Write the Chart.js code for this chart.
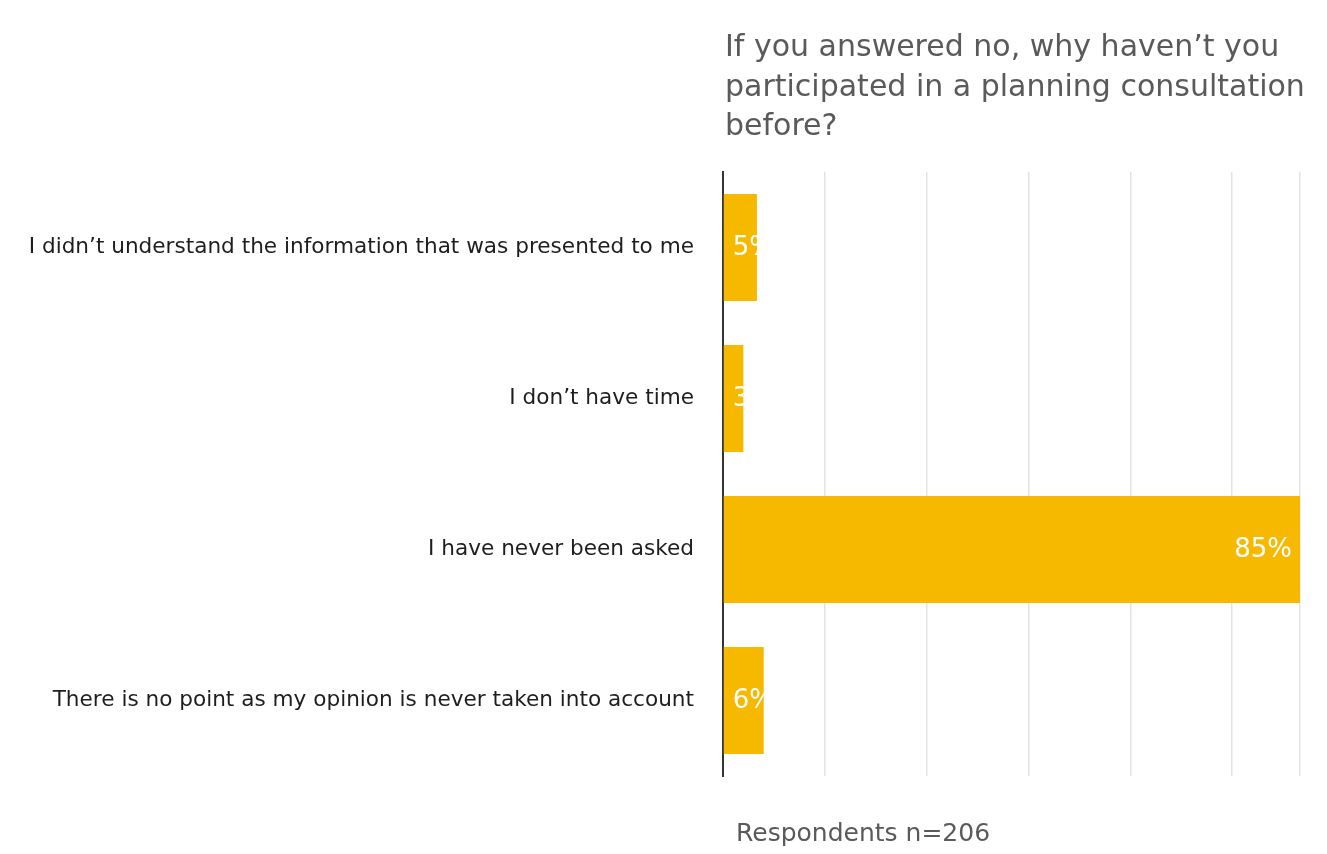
<!DOCTYPE html>
<html>
<head>
<meta charset="utf-8">
<style>
  html, body { margin: 0; padding: 0; background: #ffffff; }
  #wrap { width: 1327px; height: 854px; position: relative; }
</style>
<script src="https://cdn.jsdelivr.net/npm/chart.js@4/dist/chart.umd.min.js"></script>
</head>
<body>
<div id="wrap"><canvas id="chart" width="1327" height="854"></canvas></div>
<script>
// Survey answers and their shares (percent)
const categories = [
  "I didn\u2019t understand the information that was presented to me",
  "I don\u2019t have time",
  "I have never been asked",
  "There is no point as my opinion is never taken into account"
];
const shares = [5, 3, 85, 6];
const titleLines = [
  "If you answered no, why haven\u2019t you",
  "participated in a planning consultation",
  "before?"
];
const footnote = "Respondents n=206";

const FONT = "'DejaVu Sans', 'Liberation Sans', Arial, sans-serif";
const BAR = "#F6B900";

// Title above the plot and respondent note below it, aligned to the plot's left edge
const textPlugin = {
  id: "sideText",
  afterDraw(chart) {
    const { ctx, chartArea } = chart;
    ctx.save();
    ctx.fillStyle = "#5a5a5a";
    ctx.textAlign = "left";
    ctx.textBaseline = "alphabetic";
    ctx.font = "30px " + FONT;
    titleLines.forEach((line, i) => {
      ctx.fillText(line, chartArea.left + 2, 56 + i * 39.5);
    });
    ctx.font = "25px " + FONT;
    ctx.fillText(footnote, chartArea.left + 13, 841);
    ctx.restore();
  }
};

// Percent labels inside each bar: at the end when they fit, else at the start and clipped by the bar
const valueLabels = {
  id: "valueLabels",
  afterDatasetsDraw(chart) {
    const { ctx } = chart;
    const meta = chart.getDatasetMeta(0);
    ctx.save();
    ctx.font = "26px " + FONT;
    ctx.fillStyle = "#ffffff";
    ctx.textBaseline = "middle";
    meta.data.forEach((bar, i) => {
      const text = shares[i] + "%";
      const w = ctx.measureText(text).width;
      const left = bar.base, right = bar.x;
      const top = bar.y - bar.height / 2;
      ctx.save();
      ctx.beginPath();
      ctx.rect(left, top, right - left, bar.height);
      ctx.clip();
      if (right - left > w + 16) {
        ctx.textAlign = "right";
        ctx.fillText(text, right - 8, bar.y + 1);
      } else {
        ctx.textAlign = "left";
        ctx.fillText(text, left + 9, bar.y + 1);
      }
      ctx.restore();
    });
    ctx.restore();
  }
};

new Chart(document.getElementById("chart"), {
  type: "bar",
  data: {
    labels: categories,
    datasets: [{
      data: shares,
      backgroundColor: BAR,
      borderWidth: 0,
      categoryPercentage: 1,
      barPercentage: 0.71
    }]
  },
  options: {
    indexAxis: "y",
    responsive: false,
    animation: false,
    layout: { padding: { top: 172, bottom: 78, left: 0, right: 27 } },
    plugins: { legend: { display: false }, tooltip: { enabled: false }, title: { display: false } },
    scales: {
      x: {
        min: 0, max: 85,
        ticks: { display: false, stepSize: 15 },
        grid: { color: "#e3e3e3", lineWidth: 1.5, drawTicks: false },
        border: { display: false },
        afterFit(scale) { scale.height = 0; }
      },
      y: {
        ticks: { color: "#1e1e1e", font: { family: FONT, size: 21.6 }, padding: 29 },
        grid: { display: false, drawTicks: false },
        border: { display: true, color: "#333333", width: 2 },
        afterFit(scale) { scale.width = 723; }
      }
    }
  },
  plugins: [textPlugin, valueLabels]
});
</script>
</body>
</html>
